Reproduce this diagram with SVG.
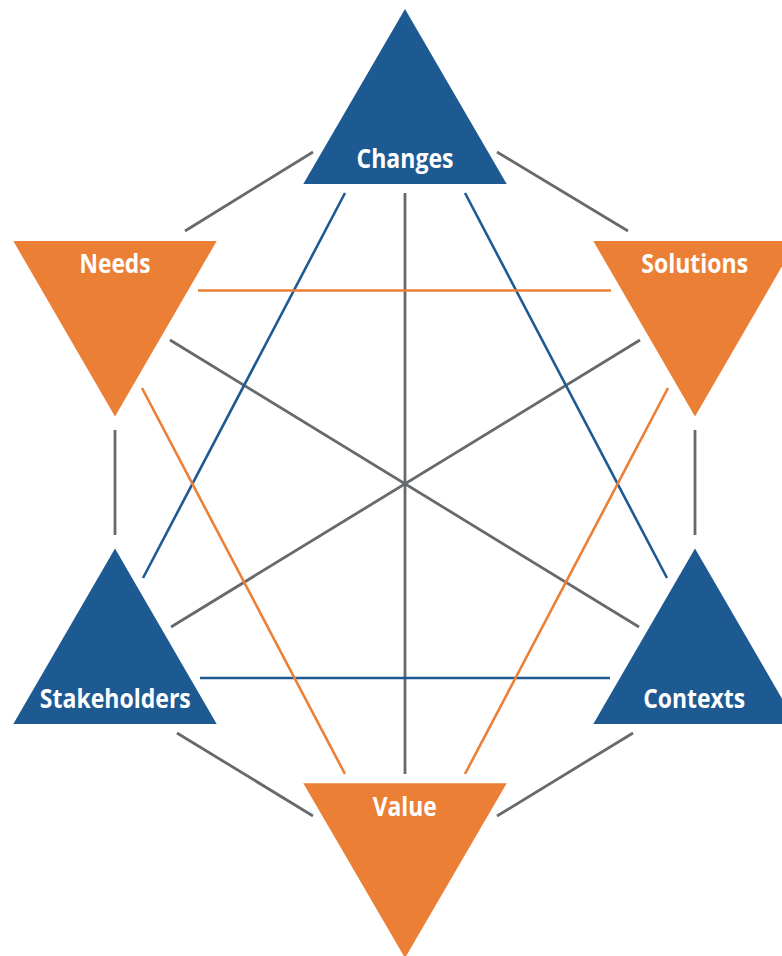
<svg xmlns="http://www.w3.org/2000/svg" width="782" height="956" viewBox="0 0 782 956">
<style>
.blue{fill:#1e5a92}
.orange{fill:#ec7f36}
.g{stroke:#666a6c;stroke-width:2.8;fill:none}
.b{stroke:#1e5a92;stroke-width:2.6;fill:none}
.o{stroke:#ec7f36;stroke-width:2.6;fill:none}
.lbl{font-family:"Open Sans","Noto Sans","DejaVu Sans",sans-serif;font-weight:700;font-size:27px;fill:#ffffff;text-anchor:middle}
</style>
<rect width="782" height="956" fill="#ffffff"/>
<g id="connectors">
<line class="g" x1="313" y1="152" x2="185" y2="231"/>
<line class="g" x1="497" y1="152" x2="628" y2="231"/>
<line class="g" x1="115" y1="430" x2="115" y2="535"/>
<line class="g" x1="695" y1="430" x2="695" y2="535"/>
<line class="g" x1="177" y1="733" x2="313" y2="816"/>
<line class="g" x1="633" y1="733" x2="497" y2="816"/>
<line class="g" x1="405" y1="193" x2="405" y2="774"/>
<line class="g" x1="170" y1="340" x2="639" y2="627"/>
<line class="g" x1="171" y1="627" x2="640" y2="340"/>
<line class="b" x1="345" y1="193" x2="143" y2="578"/>
<line class="b" x1="465" y1="193" x2="667" y2="578"/>
<line class="b" x1="200" y1="678" x2="610" y2="678"/>
<line class="o" x1="198" y1="290.5" x2="611" y2="290.5"/>
<line class="o" x1="142" y1="388" x2="345" y2="774"/>
<line class="o" x1="668" y1="388" x2="465" y2="774"/>
</g>
<g id="changes">
<polygon class="blue" points="405,9 506.7,184 303.3,184"/>
<text class="lbl" x="405" y="168" textLength="97" lengthAdjust="spacingAndGlyphs">Changes</text>
</g>
<g id="needs">
<polygon class="orange" points="13.3,241 216.7,241 115,416.5"/>
<text class="lbl" x="115" y="272.7" textLength="71" lengthAdjust="spacingAndGlyphs">Needs</text>
</g>
<g id="solutions">
<polygon class="orange" points="593.3,241 796.7,241 695,416.5"/>
<text class="lbl" x="694.7" y="272.7" textLength="107" lengthAdjust="spacingAndGlyphs">Solutions</text>
</g>
<g id="stakeholders">
<polygon class="blue" points="115,548.5 216.7,724 13.3,724"/>
<text class="lbl" x="115.3" y="708" textLength="151" lengthAdjust="spacingAndGlyphs">Stakeholders</text>
</g>
<g id="contexts">
<polygon class="blue" points="695,548.5 796.7,724 593.3,724"/>
<text class="lbl" x="694.2" y="708" textLength="102" lengthAdjust="spacingAndGlyphs">Contexts</text>
</g>
<g id="value">
<polygon class="orange" points="303.3,783.3 506.7,783.3 405,958"/>
<text class="lbl" x="404.7" y="816" textLength="64" lengthAdjust="spacingAndGlyphs">Value</text>
</g>
</svg>
